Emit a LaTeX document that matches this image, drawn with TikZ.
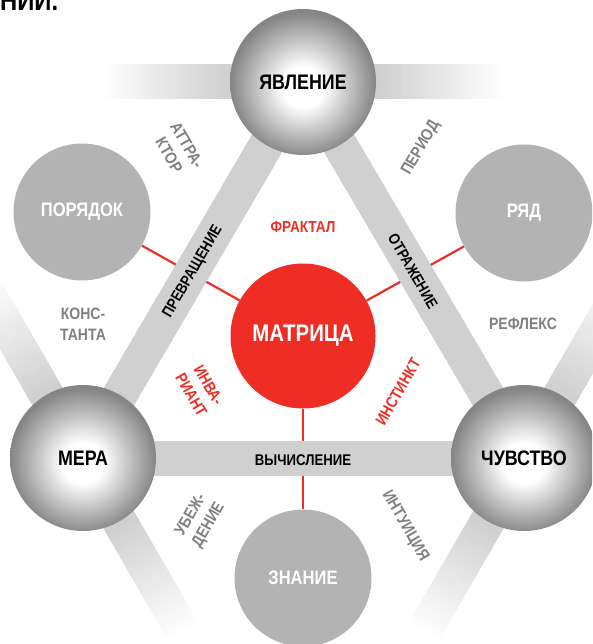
\documentclass[tikz,border=0pt]{standalone}
\usepackage{fontspec}
\setmainfont{Liberation Sans}
\newfontfamily\condsans[FakeStretch=0.85]{Liberation Sans}
\usetikzlibrary{backgrounds}
\definecolor{bargray}{RGB}{208,208,208}
\definecolor{discgray}{RGB}{179,179,179}
\definecolor{matred}{RGB}{238,46,36}
\definecolor{notegray}{RGB}{128,128,128}
\pgfdeclareradialshading{sphereshade}{\pgfpoint{0bp}{-2bp}}{color(0bp)=(white); color(7bp)=(white); color(25bp)=(black!48); color(50bp)=(black!48)}
\newcommand{\fsz}[1]{\condsans\bfseries\fontsize{#1}{1.25\dimexpr#1pt\relax}\selectfont}

\begin{document}
\begin{tikzpicture}[
    x=1pt, y=-1pt,
    sphere/.style={circle, shading=sphereshade, minimum size=146pt, inner sep=0pt, font=\fsz{21}},
    disc/.style={circle, fill=discgray, minimum size=137pt, inner sep=0pt, text=white, font=\fsz{19.5}},
    core/.style={circle, fill=matred, minimum size=145pt, inner sep=0pt, text=white, font=\fsz{24}},
    note/.style={text=notegray, align=center, font=\fsz{16.5}},
    rednote/.style={text=matred, align=center, font=\fsz{16}},
    barlabel/.style={font=\fsz{15.5}},
    bar/.style={line width=35pt, draw=bargray},
    link/.style={draw=matred, line width=2.2pt}
]
\useasboundingbox (0,0) rectangle (592,644);
\clip (0,0) rectangle (592,644);

\node[anchor=base west, inner sep=0pt, font=\fsz{28}] (head) at (0,11) {НИИ.};

\node[sphere] (yav) at (303,82) {ЯВЛЕНИЕ};
\node[sphere] (mera) at (83,458) {МЕРА};
\node[sphere] (chuv) at (524,458) {ЧУВСТВО};
\node[core] (matr) at (303,336) {МАТРИЦА};
\node[disc] (order) at (82,212) {ПОРЯДОК};
\node[disc] (row) at (524,213) {РЯД};
\node[disc] (know) at (303,578) {ЗНАНИЕ};

\node[barlabel, rotate=60] (turn) at (193,272) {ПРЕВРАЩЕНИЕ};
\node[barlabel, rotate=-60] (refl) at (413,271) {ОТРАЖЕНИЕ};
\node[barlabel] (calc) at (303,460) {ВЫЧИСЛЕНИЕ};

\node[note] (const) at (83,324) {КОНС-\\ТАНТА};
\node[note] (reflex) at (523,324) {РЕФЛЕКС};
\node[note, rotate=60] (period) at (421,148) {ПЕРИОД};
\node[note, rotate=-60] (attr) at (178,150) {АТТРА-\\КТОР};
\node[note, rotate=60] (belief) at (200,520) {УБЕЖ-\\ДЕНИЕ};
\node[note, rotate=-60] (intu) at (405,526) {ИНТУИЦИЯ};

\node[rednote] (fract) at (303,227) {ФРАКТАЛ};
\node[rednote, rotate=-60] (invar) at (200,390) {ИНВА-\\РИАНТ};
\node[rednote, rotate=60] (inst) at (398,392) {ИНСТИНКТ};

\begin{scope}[on background layer]
  % fading arms
  \foreach \hub/\ang in {yav/0, yav/180, mera/120, mera/-60, chuv/60, chuv/240} {
    \begin{scope}[shift={(\hub.center)}, rotate=\ang]
      \fill[bargray] (0,-17.5) rectangle (76,17.5);
      \foreach \k [evaluate=\k as \xa using 75+2.5*\k, evaluate=\k as \pc using 100-2*\k] in {0,...,50}
        \fill[bargray!\pc!white] (\xa,-17.5) rectangle ++(3,35);
    \end{scope}
  }
  \draw[link] (matr) -- (order);
  \draw[link] (matr) -- (row);
  \draw[link] (matr) -- (know);
  \draw[bar] (yav.center) -- (mera.center);
  \draw[bar] (yav.center) -- (chuv.center);
  \draw[bar] (mera.center) -- (chuv.center);
\end{scope}
\end{tikzpicture}
\end{document}
